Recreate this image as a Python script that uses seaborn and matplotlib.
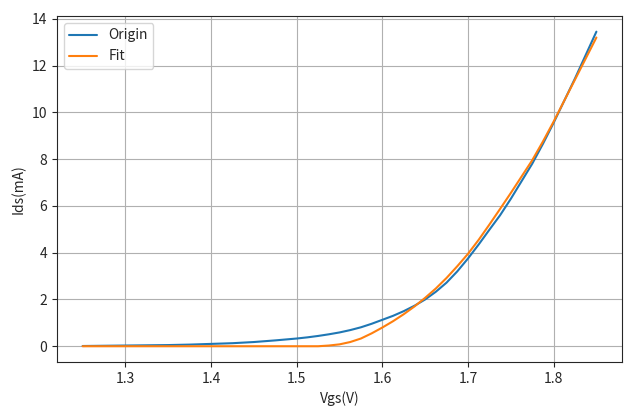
import matplotlib
matplotlib.use("Agg")
import matplotlib.pyplot as plt
import seaborn as sns
import pandas as pd

vgs = [1.250, 1.275, 1.300, 1.325, 1.350, 1.375, 1.400, 1.425, 1.450, 1.475,
       1.500, 1.5125, 1.525, 1.5375, 1.550, 1.5625, 1.575, 1.5875, 1.600, 1.6125,
       1.625, 1.6375, 1.650, 1.6625, 1.675, 1.6875, 1.700, 1.7125, 1.725, 1.7375,
       1.750, 1.7625, 1.775, 1.7875, 1.800, 1.8125, 1.825, 1.8375, 1.850]
ids_origin = [0.01, 0.02, 0.03, 0.04, 0.05, 0.07, 0.10, 0.13, 0.18, 0.25,
              0.33, 0.38, 0.44, 0.51, 0.59, 0.69, 0.81, 0.96, 1.13, 1.30,
              1.50, 1.73, 2.00, 2.33, 2.72, 3.20, 3.75, 4.35, 4.98, 5.60,
              6.30, 7.05, 7.80, 8.65, 9.55, 10.50, 11.45, 12.45, 13.45]
ids_fit = [0.0, 0.0, 0.0, 0.0, 0.0, 0.0, 0.0, 0.0, 0.0, 0.0,
           0.0, 0.0, 0.0, 0.03, 0.08, 0.18, 0.33, 0.55, 0.80, 1.07,
           1.37, 1.70, 2.07, 2.47, 2.92, 3.42, 3.95, 4.55, 5.20, 5.87,
           6.55, 7.25, 7.95, 8.75, 9.60, 10.50, 11.40, 12.30, 13.20]

sns.set_style("ticks")
plt.rcParams['font.family'] = ['Noto Sans CJK SC', 'DejaVu Sans']
plt.rcParams['axes.unicode_minus'] = False

df = pd.DataFrame({
    "Vgs": vgs * 2,
    "Ids": ids_origin + ids_fit,
    "series": ["Origin"] * len(vgs) + ["Fit"] * len(vgs),
})

fig, ax = plt.subplots(figsize=(6.4, 4.09), dpi=100)
sns.lineplot(data=df, x="Vgs", y="Ids", hue="series", ax=ax,
             palette=["#1f77b4", "#ff7f0e"], linewidth=1.5, sort=False)
ax.grid(True, color="#b0b0b0", linewidth=0.8)
ax.set_axisbelow(True)
ax.set_xlabel("Vgs(V)")
ax.set_ylabel("Ids(mA)")
ax.legend(loc="upper left", title=None)
ax.set_yticks([0, 2, 4, 6, 8, 10, 12, 14])
ax.set_xticks([1.3, 1.4, 1.5, 1.6, 1.7, 1.8])
ax.margins(x=0.05, y=0.05)
for s in ax.spines.values():
    s.set_visible(True)
fig.subplots_adjust(left=0.089, right=0.972, top=0.961, bottom=0.115)
fig.savefig("out.png", dpi=100)
